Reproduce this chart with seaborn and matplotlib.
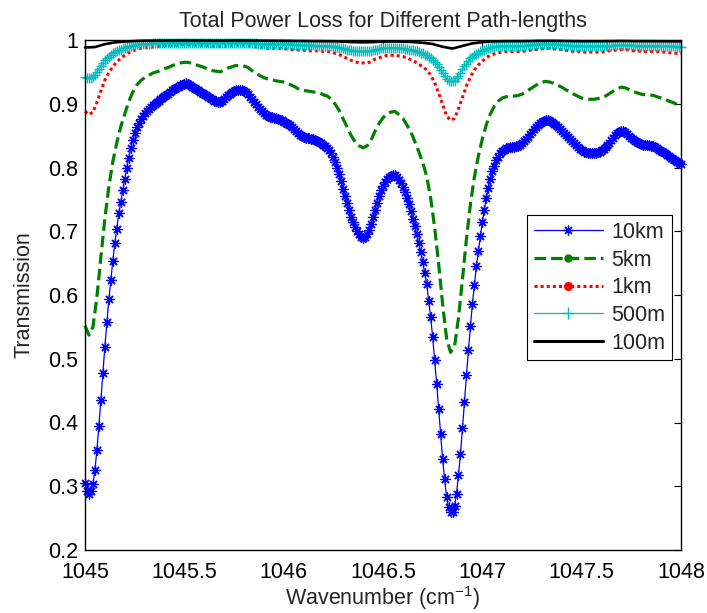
import numpy as np
import matplotlib
matplotlib.use("Agg")
import matplotlib.pyplot as plt
from matplotlib.lines import Line2D
import seaborn as sns

# Wavenumber span (cm^-1); every series is sampled evenly across it
WN_START, WN_STOP = 1045.0, 1048.0

# 10 km path, every 0.01 cm^-1
t_10km = [
    0.305, 0.292, 0.288, 0.292, 0.303, 0.326, 0.357, 0.395, 0.435, 0.477,
    0.519, 0.557, 0.593, 0.624, 0.654, 0.681, 0.704, 0.728, 0.746, 0.764,
    0.782, 0.799, 0.815, 0.830, 0.843, 0.854, 0.863, 0.870, 0.876, 0.881,
    0.885, 0.889, 0.892, 0.895, 0.898, 0.900, 0.903, 0.905, 0.907, 0.909,
    0.912, 0.914, 0.916, 0.919, 0.921, 0.923, 0.925, 0.927, 0.929, 0.930,
    0.931, 0.932, 0.931, 0.929, 0.927, 0.925, 0.923, 0.921, 0.919, 0.917,
    0.915, 0.913, 0.911, 0.909, 0.907, 0.905, 0.904, 0.903, 0.903, 0.905,
    0.908, 0.911, 0.914, 0.916, 0.918, 0.920, 0.921, 0.922, 0.922, 0.921,
    0.920, 0.918, 0.915, 0.911, 0.907, 0.903, 0.899, 0.895, 0.891, 0.888,
    0.885, 0.883, 0.881, 0.880, 0.879, 0.878, 0.877, 0.876, 0.875, 0.874,
    0.872, 0.870, 0.868, 0.866, 0.863, 0.860, 0.857, 0.854, 0.851, 0.849,
    0.848, 0.847, 0.846, 0.846, 0.845, 0.844, 0.843, 0.842, 0.840, 0.838,
    0.836, 0.834, 0.831, 0.827, 0.822, 0.816, 0.809, 0.800, 0.790, 0.779,
    0.767, 0.755, 0.744, 0.733, 0.723, 0.714, 0.706, 0.700, 0.695, 0.691,
    0.690, 0.691, 0.695, 0.702, 0.711, 0.722, 0.734, 0.745, 0.755, 0.764,
    0.771, 0.777, 0.782, 0.785, 0.787, 0.788, 0.788, 0.785, 0.780, 0.775,
    0.769, 0.761, 0.752, 0.742, 0.732, 0.720, 0.708, 0.695, 0.681, 0.667,
    0.652, 0.634, 0.617, 0.591, 0.565, 0.534, 0.498, 0.461, 0.421, 0.382,
    0.343, 0.311, 0.283, 0.267, 0.260, 0.259, 0.269, 0.288, 0.318, 0.351,
    0.391, 0.432, 0.474, 0.513, 0.551, 0.586, 0.616, 0.645, 0.669, 0.692,
    0.714, 0.734, 0.752, 0.768, 0.782, 0.794, 0.803, 0.811, 0.817, 0.822,
    0.826, 0.828, 0.830, 0.831, 0.832, 0.832, 0.832, 0.833, 0.834, 0.836,
    0.838, 0.841, 0.844, 0.848, 0.852, 0.856, 0.860, 0.864, 0.867, 0.870,
    0.872, 0.873, 0.874, 0.874, 0.873, 0.871, 0.869, 0.866, 0.863, 0.860,
    0.857, 0.854, 0.851, 0.848, 0.845, 0.841, 0.838, 0.835, 0.832, 0.829,
    0.827, 0.825, 0.824, 0.823, 0.823, 0.823, 0.823, 0.823, 0.824, 0.825,
    0.827, 0.829, 0.832, 0.835, 0.839, 0.843, 0.847, 0.851, 0.854, 0.856,
    0.857, 0.857, 0.856, 0.853, 0.850, 0.847, 0.844, 0.842, 0.840, 0.838,
    0.837, 0.836, 0.836, 0.835, 0.835, 0.834, 0.833, 0.832, 0.830, 0.828,
    0.826, 0.824, 0.822, 0.820, 0.818, 0.815, 0.813, 0.811, 0.809, 0.807,
    0.805,
]

# 5 km path, every 0.02 cm^-1
t_5km = [
    0.552, 0.537, 0.550, 0.597, 0.660, 0.720, 0.770, 0.809, 0.839, 0.864,
    0.884, 0.903, 0.918, 0.929, 0.936, 0.941, 0.944, 0.948, 0.950, 0.952,
    0.955, 0.957, 0.960, 0.962, 0.964, 0.965, 0.965, 0.963, 0.961, 0.959,
    0.957, 0.954, 0.952, 0.951, 0.950, 0.953, 0.956, 0.958, 0.960, 0.960,
    0.959, 0.957, 0.952, 0.948, 0.944, 0.941, 0.939, 0.938, 0.936, 0.935,
    0.934, 0.932, 0.929, 0.926, 0.922, 0.921, 0.920, 0.919, 0.918, 0.917,
    0.914, 0.912, 0.907, 0.899, 0.889, 0.876, 0.863, 0.850, 0.840, 0.834,
    0.831, 0.834, 0.843, 0.857, 0.869, 0.878, 0.884, 0.887, 0.888, 0.883,
    0.877, 0.867, 0.856, 0.841, 0.825, 0.808, 0.786, 0.752, 0.706, 0.649,
    0.586, 0.532, 0.510, 0.519, 0.564, 0.625, 0.688, 0.742, 0.785, 0.818,
    0.845, 0.867, 0.884, 0.896, 0.904, 0.909, 0.911, 0.912, 0.912, 0.913,
    0.915, 0.919, 0.923, 0.927, 0.931, 0.934, 0.935, 0.934, 0.932, 0.929,
    0.926, 0.922, 0.919, 0.915, 0.912, 0.909, 0.908, 0.907, 0.907, 0.908,
    0.909, 0.912, 0.916, 0.920, 0.924, 0.926, 0.925, 0.922, 0.919, 0.917,
    0.915, 0.914, 0.914, 0.913, 0.911, 0.909, 0.907, 0.904, 0.902, 0.899,
    0.897,
]

# 1 km path, every 0.02 cm^-1
t_1km = [
    0.888, 0.883, 0.887, 0.902, 0.920, 0.937, 0.949, 0.958, 0.966, 0.971,
    0.976, 0.980, 0.983, 0.985, 0.987, 0.988, 0.989, 0.989, 0.990, 0.990,
    0.991, 0.991, 0.992, 0.992, 0.993, 0.993, 0.993, 0.992, 0.992, 0.992,
    0.991, 0.991, 0.990, 0.990, 0.990, 0.990, 0.991, 0.991, 0.992, 0.992,
    0.992, 0.991, 0.990, 0.989, 0.989, 0.988, 0.987, 0.987, 0.987, 0.987,
    0.986, 0.986, 0.985, 0.985, 0.984, 0.984, 0.983, 0.983, 0.983, 0.983,
    0.982, 0.982, 0.981, 0.979, 0.977, 0.974, 0.971, 0.968, 0.966, 0.964,
    0.964, 0.964, 0.966, 0.970, 0.972, 0.974, 0.976, 0.976, 0.976, 0.975,
    0.974, 0.972, 0.969, 0.966, 0.962, 0.958, 0.953, 0.945, 0.933, 0.917,
    0.899, 0.881, 0.874, 0.877, 0.892, 0.910, 0.928, 0.942, 0.953, 0.961,
    0.967, 0.972, 0.976, 0.978, 0.980, 0.981, 0.982, 0.982, 0.982, 0.982,
    0.982, 0.983, 0.984, 0.985, 0.985, 0.986, 0.987, 0.987, 0.986, 0.985,
    0.985, 0.984, 0.983, 0.982, 0.982, 0.981, 0.981, 0.981, 0.981, 0.981,
    0.981, 0.982, 0.983, 0.984, 0.984, 0.985, 0.985, 0.984, 0.983, 0.983,
    0.982, 0.982, 0.982, 0.982, 0.982, 0.981, 0.981, 0.980, 0.980, 0.979,
    0.979,
]

# 500 m path, every 0.01 cm^-1
t_500m = [
    0.942, 0.940, 0.940, 0.940, 0.942, 0.945, 0.950, 0.955, 0.959, 0.964,
    0.968, 0.971, 0.974, 0.977, 0.979, 0.981, 0.983, 0.984, 0.985, 0.987,
    0.988, 0.989, 0.990, 0.991, 0.991, 0.992, 0.993, 0.993, 0.993, 0.994,
    0.994, 0.994, 0.994, 0.994, 0.995, 0.995, 0.995, 0.995, 0.995, 0.995,
    0.995, 0.996, 0.996, 0.996, 0.996, 0.996, 0.996, 0.996, 0.996, 0.996,
    0.996, 0.996, 0.996, 0.996, 0.996, 0.996, 0.996, 0.996, 0.996, 0.996,
    0.996, 0.995, 0.995, 0.995, 0.995, 0.995, 0.995, 0.995, 0.995, 0.995,
    0.995, 0.995, 0.996, 0.996, 0.996, 0.996, 0.996, 0.996, 0.996, 0.996,
    0.996, 0.996, 0.996, 0.995, 0.995, 0.995, 0.995, 0.994, 0.994, 0.994,
    0.994, 0.994, 0.994, 0.994, 0.994, 0.994, 0.993, 0.993, 0.993, 0.993,
    0.993, 0.993, 0.993, 0.993, 0.993, 0.992, 0.992, 0.992, 0.992, 0.992,
    0.992, 0.992, 0.992, 0.992, 0.992, 0.992, 0.991, 0.991, 0.991, 0.991,
    0.991, 0.991, 0.991, 0.991, 0.990, 0.990, 0.989, 0.989, 0.988, 0.988,
    0.987, 0.986, 0.985, 0.985, 0.984, 0.983, 0.983, 0.982, 0.982, 0.982,
    0.982, 0.982, 0.982, 0.982, 0.983, 0.984, 0.985, 0.985, 0.986, 0.987,
    0.987, 0.987, 0.988, 0.988, 0.988, 0.988, 0.988, 0.988, 0.988, 0.987,
    0.987, 0.986, 0.986, 0.985, 0.985, 0.984, 0.983, 0.982, 0.981, 0.980,
    0.979, 0.977, 0.976, 0.974, 0.972, 0.969, 0.966, 0.962, 0.958, 0.953,
    0.948, 0.943, 0.939, 0.936, 0.935, 0.935, 0.936, 0.940, 0.944, 0.949,
    0.954, 0.959, 0.963, 0.967, 0.971, 0.974, 0.976, 0.978, 0.980, 0.982,
    0.983, 0.985, 0.986, 0.987, 0.988, 0.989, 0.989, 0.990, 0.990, 0.990,
    0.990, 0.991, 0.991, 0.991, 0.991, 0.991, 0.991, 0.991, 0.991, 0.991,
    0.991, 0.991, 0.992, 0.992, 0.992, 0.992, 0.992, 0.993, 0.993, 0.993,
    0.993, 0.993, 0.993, 0.993, 0.993, 0.993, 0.993, 0.993, 0.993, 0.992,
    0.992, 0.992, 0.992, 0.992, 0.992, 0.991, 0.991, 0.991, 0.991, 0.991,
    0.991, 0.990, 0.990, 0.990, 0.990, 0.990, 0.990, 0.990, 0.990, 0.990,
    0.991, 0.991, 0.991, 0.991, 0.991, 0.991, 0.992, 0.992, 0.992, 0.992,
    0.992, 0.992, 0.992, 0.992, 0.992, 0.992, 0.992, 0.991, 0.991, 0.991,
    0.991, 0.991, 0.991, 0.991, 0.991, 0.991, 0.991, 0.991, 0.991, 0.991,
    0.990, 0.990, 0.990, 0.990, 0.990, 0.990, 0.990, 0.990, 0.989, 0.989,
    0.989,
]

# 100 m path, every 0.05 cm^-1
t_100m = [
    0.9882, 0.9889, 0.9935, 0.9962, 0.9975, 0.9984, 0.9988, 0.9989, 0.9991, 0.9992,
    0.9993, 0.9992, 0.9991, 0.9990, 0.9990, 0.9992, 0.9992, 0.9990, 0.9988, 0.9987,
    0.9986, 0.9985, 0.9984, 0.9983, 0.9982, 0.9980, 0.9974, 0.9966, 0.9963, 0.9967,
    0.9974, 0.9976, 0.9974, 0.9967, 0.9957, 0.9937, 0.9894, 0.9866, 0.9907, 0.9947,
    0.9966, 0.9977, 0.9981, 0.9982, 0.9982, 0.9984, 0.9986, 0.9986, 0.9985, 0.9983,
    0.9981, 0.9981, 0.9981, 0.9983, 0.9985, 0.9983, 0.9982, 0.9982, 0.9981, 0.9980,
    0.9978,
]

labels = ["10km", "5km", "1km", "500m", "100m"]
x_ticks = [1045, 1045.5, 1046, 1046.5, 1047, 1047.5, 1048]
x_tick_labels = ["1045", "1045.5", "1046", "1046.5", "1047", "1047.5", "1048"]
y_ticks = [0.2, 0.3, 0.4, 0.5, 0.6, 0.7, 0.8, 0.9, 1.0]
y_tick_labels = ["0.2", "0.3", "0.4", "0.5", "0.6", "0.7", "0.8", "0.9", "1"]


def wavenumbers(values):
    return np.linspace(WN_START, WN_STOP, len(values))


sns.set_theme(style="white")
plt.rcParams["font.family"] = ["Liberation Sans", "DejaVu Sans"]
plt.rcParams["mathtext.fontset"] = "custom"
plt.rcParams["mathtext.rm"] = "Liberation Sans"
plt.rcParams["mathtext.it"] = "Liberation Sans:italic"

FS = 15.5
BLUE, GREEN, RED, CYAN = "#0000ff", "#008000", "#ff0000", "#00bfbf"
STAR = (8, 2, 0)          # eight-armed asterisk
DASH, DOT = (3.6, 1.6), (1.0, 1.0)

fig = plt.figure(figsize=(7.07, 6.13), dpi=100)
ax = fig.add_axes([85 / 707, 1 - 550 / 613, 596 / 707, 510 / 613])

common = dict(ax=ax, estimator=None, sort=False, clip_on=False)
sns.lineplot(x=wavenumbers(t_10km), y=t_10km, color=BLUE, lw=0.9,
             marker=STAR, ms=7.2, mew=0.9, mec=BLUE, **common)
sns.lineplot(x=wavenumbers(t_5km), y=t_5km, color=GREEN, lw=2.3, **common)
ax.lines[-1].set_dashes(DASH)
sns.lineplot(x=wavenumbers(t_1km), y=t_1km, color=RED, lw=2.2, **common)
ax.lines[-1].set_dashes(DOT)
sns.lineplot(x=wavenumbers(t_500m), y=t_500m, color=CYAN, lw=0.9,
             marker="+", ms=7.5, mew=1.0, mec=CYAN, **common)
sns.lineplot(x=wavenumbers(t_100m), y=t_100m, color="black", lw=1.9, **common)

ax.set_xlim(WN_START, WN_STOP)
ax.set_ylim(0.2, 1.0)
ax.set_xticks(x_ticks)
ax.set_xticklabels(x_tick_labels)
ax.set_yticks(y_ticks)
ax.set_yticklabels(y_tick_labels)
ax.tick_params(direction="in", length=5, width=0.8, top=True, right=True,
               labelsize=FS, color="black", labelcolor="black")
ax.tick_params(axis="x", pad=8.5)
ax.tick_params(axis="y", pad=5)
for spine in ax.spines.values():
    spine.set_visible(True)
    spine.set_color("black")
    spine.set_linewidth(1.0)

ax.set_title("Total Power Loss for Different Path-lengths", fontsize=FS, pad=9)
ax.set_xlabel("Wavenumber (cm$^{-1}$)", fontsize=FS, labelpad=1)
ax.set_ylabel("Transmission", fontsize=FS, labelpad=10)

# legend keys carry a marker in the middle of each line sample
handles = [
    Line2D([], [], color=BLUE, lw=0.9, marker=STAR, ms=7, mew=0.9),
    Line2D([], [], color=GREEN, lw=2.3, dashes=DASH, marker="o", ms=5),
    Line2D([], [], color=RED, lw=2.2, dashes=DOT, marker="o", ms=5.5),
    Line2D([], [], color=CYAN, lw=0.9, marker="+", ms=8, mew=1.0),
    Line2D([], [], color="black", lw=2.2),
]
leg = ax.legend(handles, labels, loc="upper right",
                bbox_to_anchor=((672 - 85) / 596, (550 - 215) / 510),
                borderaxespad=0, fontsize=FS, numpoints=1, handlelength=3.2,
                handletextpad=0.4, labelspacing=0.31, borderpad=0.32,
                fancybox=False, framealpha=1, edgecolor="black")
leg.get_frame().set_linewidth(0.8)

fig.savefig("out.png", dpi=100)
